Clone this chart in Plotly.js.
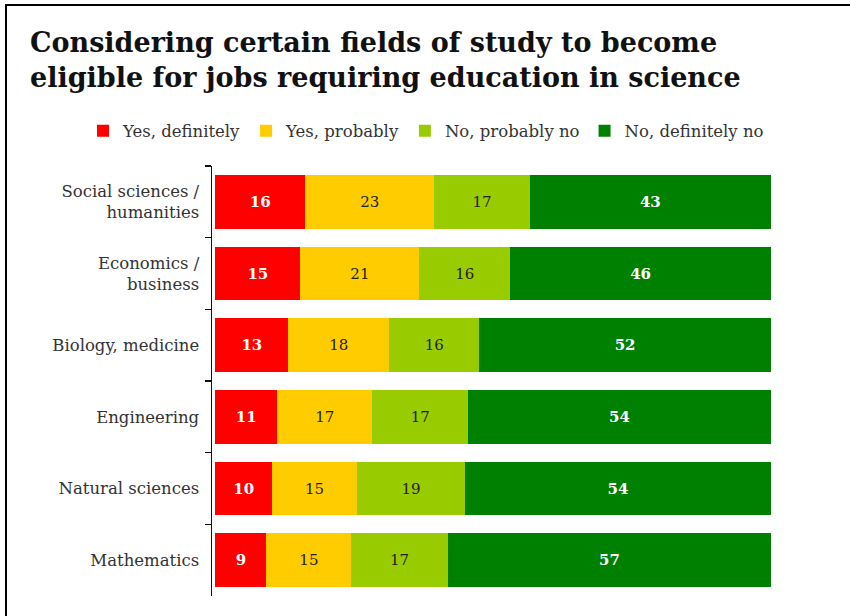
<!DOCTYPE html>
<html><head><meta charset="utf-8">
<script src="https://cdn.plot.ly/plotly-3.0.1.min.js"></script>
<style>html,body{margin:0;padding:0;background:#fff}#chart{width:850px;height:616px}</style>
</head><body><div id="chart"></div>
<script>
const categories = ["Social sciences /<br>humanities", "Economics /<br>business", "Biology, medicine", "Engineering", "Natural sciences", "Mathematics"];
const seriesNames = ["Yes, definitely", "Yes, probably", "No, probably no", "No, definitely no"];
const yesDefinitely = [16, 15, 13, 11, 10, 9];
const yesProbably = [23, 21, 18, 17, 15, 15];
const noProbably = [17, 16, 16, 17, 19, 17];
const noDefinitely = [43, 46, 52, 54, 54, 57];
const colors = ["#FF0000", "#FFCC00", "#99CC00", "#008000"];
const labelColors = ["#ffffff", "#222222", "#222222", "#ffffff"];

const serif = "DejaVu Serif, Liberation Serif, serif";
const values = [yesDefinitely, yesProbably, noProbably, noDefinitely];
const traces = values.map((v, i) => ({
  type: "bar", orientation: "h", name: seriesNames[i],
  y: categories, x: v, text: v.map(String), texttemplate: "%{text}",
  textposition: "inside", insidetextanchor: "middle", constraintext: "none",
  textfont: {family: serif, size: 15, color: labelColors[i], weight: (i === 0 || i === 3) ? "bold" : "normal"},
  marker: {color: colors[i], line: {width: 0}},
  hoverinfo: "skip"
}));

const L = 212, R = 771, T = 166, B = 596, W = 850, H = 616;
const px = x => (x - L) / (R - L);
const py = y => (B - y) / (B - T);

const layout = {
  width: W, height: H,
  margin: {l: L, r: W - R, t: T, b: H - B, pad: 0},
  paper_bgcolor: "#fff", plot_bgcolor: "#fff",
  barmode: "stack", barnorm: "percent", bargap: 0.25,
  title: {text: "Considering certain fields of study to become<br>eligible for jobs requiring education in science",
    font: {family: serif, size: 27, color: "#111", weight: "bold"},
    xref: "container", yref: "container", x: 30 / W, xanchor: "left", y: 1 - 52 / H, yanchor: "top"},
  showlegend: true,
  legend: {orientation: "h", x: px(83), xanchor: "left", y: py(131), yanchor: "middle",
    font: {family: serif, size: 16.5, color: "#333"}, traceorder: "normal",
    itemwidth: 30, bgcolor: "rgba(0,0,0,0)"},
  xaxis: {range: [-0.6, 100], showgrid: false, zeroline: false, showticklabels: false, ticks: "", showline: false, fixedrange: true},
  yaxis: {autorange: "reversed", type: "category", showgrid: false, zeroline: false,
    showline: true, linecolor: "#111", linewidth: 1.5, ticks: "outside", tickson: "boundaries",
    ticklen: 6, tickcolor: "#111", tickwidth: 1.5, ticklabelstandoff: 8,
    tickfont: {family: serif, size: 16.5, color: "#333"}},
  shapes: [
    {type: "line", xref: "paper", yref: "paper", x0: px(5), x1: px(W + 5), y0: py(5), y1: py(5), line: {color: "#000", width: 2}},
    {type: "line", xref: "paper", yref: "paper", x0: px(6), x1: px(6), y0: py(4), y1: py(H + 5), line: {color: "#000", width: 2}}
  ]
};
Plotly.newPlot("chart", traces, layout, {displayModeBar: false, staticPlot: true});
</script></body></html>
